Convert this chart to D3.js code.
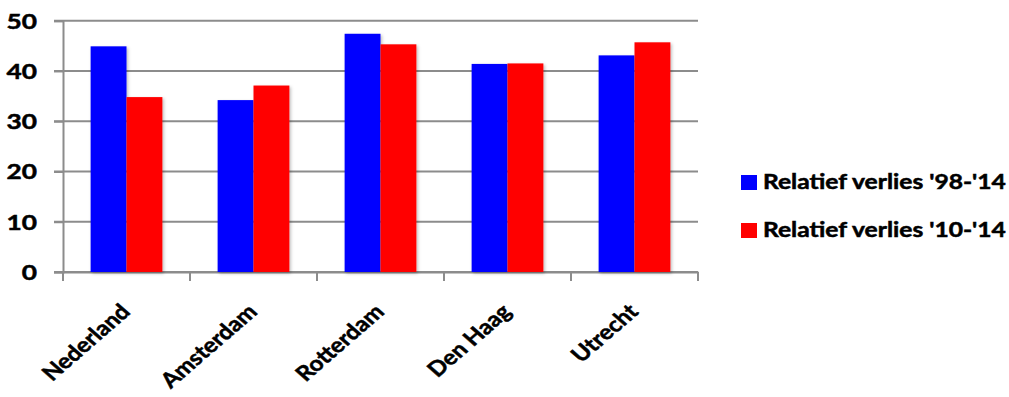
<!DOCTYPE html>
<html>
<head>
<meta charset="utf-8">
<script src="https://cdn.jsdelivr.net/npm/d3@7"></script>
<style>
  html, body { margin: 0; padding: 0; background: #fff; }
  svg { display: block; font-family: Lato, "Open Sans", sans-serif; font-weight: bold; }
  .lbl { stroke: #000; stroke-width: 0.5px; paint-order: stroke; }
</style>
</head>
<body>
<svg id="chart" width="1009" height="397"></svg>
<script>
const categories = ["Nederland", "Amsterdam", "Rotterdam", "Den Haag", "Utrecht"];
const verlies98_14 = [44.9, 34.2, 47.4, 41.4, 43.1];
const verlies10_14 = [34.8, 37.1, 45.3, 41.5, 45.7];
const seriesNames = ["Relatief verlies '98-'14", "Relatief verlies '10-'14"];
const seriesColors = ["#0000ff", "#ff0000"];
const yTicks = [0, 10, 20, 30, 40, 50];

const svg = d3.select("#chart");
const plot = { left: 63, right: 698, top: 20.7, bottom: 272 };
const stretch = 1.2; // text is drawn slightly wide

const x0 = d3.scaleBand().domain(categories).range([plot.left, plot.right]).padding(0);
const x1 = d3.scaleBand().domain([0, 1]).range([0, x0.bandwidth()]).paddingOuter(0.77).paddingInner(0);
const y = d3.scaleLinear().domain([0, 50]).range([plot.bottom, plot.top]);

const defs = svg.append("defs");
const f = defs.append("filter").attr("id", "shadow").attr("x", "-20%").attr("y", "-20%").attr("width", "140%").attr("height", "140%");
f.append("feDropShadow").attr("dx", 1.5).attr("dy", 1.5).attr("stdDeviation", 1.5).attr("flood-color", "#000").attr("flood-opacity", 0.25);

// horizontal gridlines
svg.append("g")
  .selectAll("line")
  .data(yTicks)
  .join("line")
  .attr("x1", plot.left - 9)
  .attr("x2", plot.right)
  .attr("y1", d => y(d))
  .attr("y2", d => y(d))
  .attr("stroke", "#8c8c8c")
  .attr("stroke-width", 2);

// y axis
const yAxis = svg.append("g")
  .attr("transform", `translate(${plot.left},0)`)
  .call(d3.axisLeft(y).tickValues(yTicks).tickSize(9));
yAxis.select(".domain").attr("stroke", "#8c8c8c").attr("stroke-width", 2);
yAxis.selectAll(".tick line").attr("stroke", "#8c8c8c").attr("stroke-width", 2);
yAxis.selectAll(".tick text")
  .attr("class", "lbl")
  .attr("x", null)
  .attr("dy", null)
  .attr("transform", `translate(-26,7.5) scale(${stretch + 0.05},1)`)
  .attr("font-size", 21)
  .attr("fill", "#000")
  .attr("font-family", "Lato, sans-serif");

// x axis
const xAxis = svg.append("g")
  .attr("transform", `translate(0,${plot.bottom})`)
  .call(d3.axisBottom(x0).tickSize(0).tickFormat(""));
xAxis.select(".domain").attr("stroke", "#8c8c8c").attr("stroke-width", 2);
const xTickPos = categories.map(c => x0(c)).concat([plot.right]);
xAxis.append("g").selectAll("line")
  .data(xTickPos)
  .join("line")
  .attr("x1", d => d).attr("x2", d => d)
  .attr("y1", 0).attr("y2", 9)
  .attr("stroke", "#8c8c8c").attr("stroke-width", 2);

// category labels, rotated
svg.append("g")
  .selectAll("text")
  .data(categories)
  .join("text")
  .attr("class", "lbl")
  .attr("transform", d => `translate(${x0(d) + x0.bandwidth() / 2 + 5},${plot.bottom + 41}) scale(1.15,1) rotate(-45)`)
  .attr("text-anchor", "end")
  .attr("font-size", 21)
  .attr("fill", "#000")
  .text(d => d);

// bars
const series = [verlies98_14, verlies10_14];
const groups = svg.append("g")
  .selectAll("g")
  .data(categories)
  .join("g")
  .attr("transform", d => `translate(${x0(d)},0)`);
groups.selectAll("rect")
  .data((d, i) => series.map((s, k) => ({ k, v: s[i] })))
  .join("rect")
  .attr("x", d => x1(d.k))
  .attr("width", x1.bandwidth())
  .attr("y", d => y(d.v))
  .attr("height", d => y(0) - y(d.v))
  .attr("fill", d => seriesColors[d.k])
  .attr("filter", "url(#shadow)");

// legend
const legend = svg.append("g").attr("transform", "translate(741,175)");
const items = legend.selectAll("g")
  .data(seriesNames)
  .join("g")
  .attr("transform", (d, i) => `translate(0,${i * 48})`);
items.append("rect")
  .attr("width", 16).attr("height", 15)
  .attr("fill", (d, i) => seriesColors[i]);
items.append("text")
  .attr("class", "lbl")
  .attr("transform", "translate(22,14) scale(1.23,1)")
  .attr("font-size", 20)
  .attr("fill", "#000")
  .text(d => d);
</script>
</body>
</html>
